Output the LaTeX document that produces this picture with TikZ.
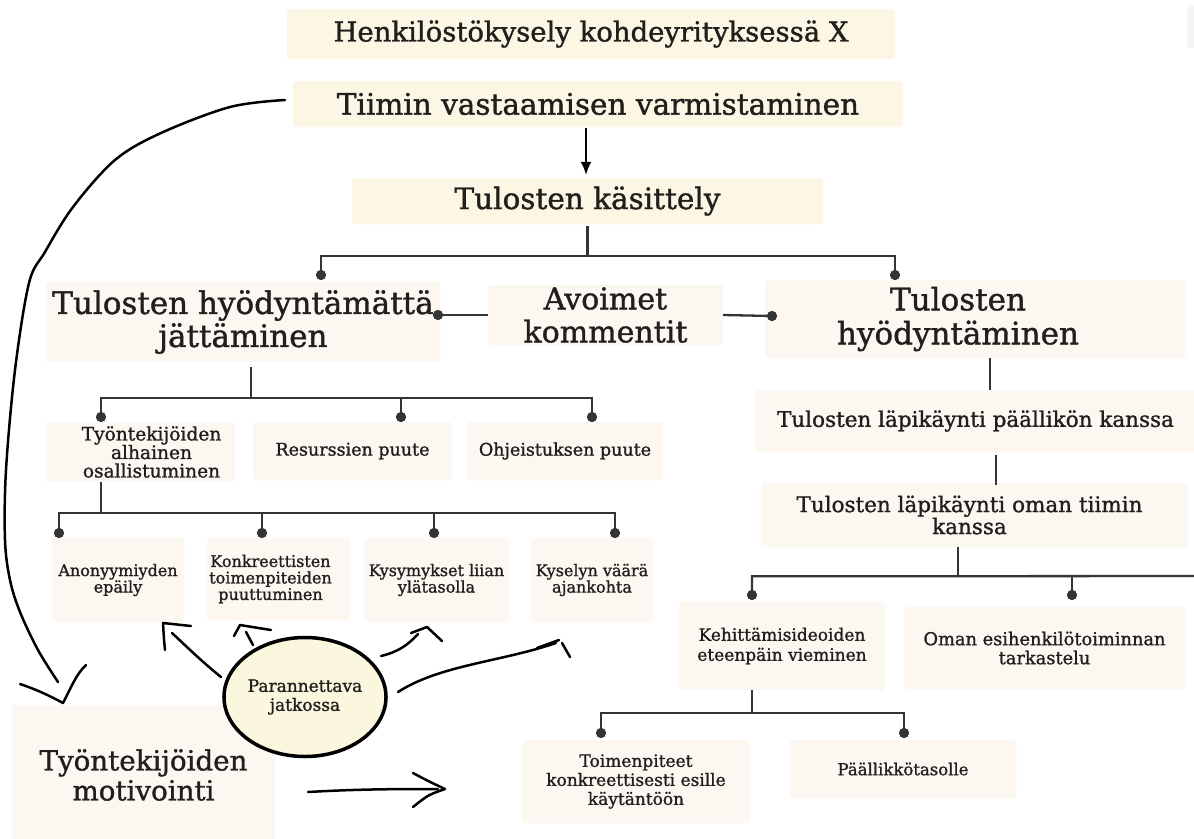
\documentclass[tikz,border=0pt]{standalone}
\usepackage{fontspec}
\setmainfont{DejaVu Serif}[FakeBold=1.2]
\usetikzlibrary{arrows.meta,shapes.geometric}
\definecolor{topfill}{RGB}{252,246,228}
\definecolor{boxfill}{RGB}{253,247,241}
\definecolor{circfill}{RGB}{251,246,222}
\definecolor{ink}{RGB}{34,30,28}
\definecolor{linec}{RGB}{52,52,52}
\newcommand{\fz}[2]{\fontsize{#1pt}{#2pt}\selectfont}
\begin{document}
\begin{tikzpicture}[x=1pt,y=-1pt,
  topbox/.style={fill=topfill, rounded corners=3pt, inner sep=0pt, align=center, text=ink},
  box/.style={fill=boxfill, rounded corners=3pt, inner sep=0pt, align=center, text=ink},
  lab/.style={inner sep=0pt, align=center, text=ink},
  conn/.style={draw=linec, line width=2.3pt},
  dotc/.style={circle, fill=linec, inner sep=0pt, minimum size=10pt},
  arr/.style={draw=black, line width=2pt, -{Latex[length=13pt,width=11pt]}},
  sketch/.style={draw=black, line width=2.5pt, line cap=round, line join=round},
]
\useasboundingbox (0,0) rectangle (1194,838);
\clip (0,0) rectangle (1194,838);
\fill[white] (0,0) rectangle (1194,838);
\fill[black!4] (1187,5) rectangle (1200,48);

% --- top chain
\node[topbox, minimum width=608pt, minimum height=50pt, font=\fz{27.5}{30}] (title) at (591,34) {Henkilöstökysely kohdeyrityksessä X};
\node[topbox, minimum width=610pt, minimum height=46pt, font=\fz{29.5}{32}] (tiimin) at (598,104) {Tiimin vastaamisen varmistaminen};
\node[topbox, minimum width=471pt, minimum height=46pt, font=\fz{29.5}{32}] (kas) at (587.5,201) {Tulosten käsittely};

% --- first level
\node[box, minimum width=394pt, minimum height=80pt, font=\fz{31}{33}] (hyj) at (243,322) {Tulosten hyödyntämättä\\jättäminen};
\node[box, minimum width=235pt, minimum height=60pt, font=\fz{30}{33}] (avo) at (605.5,315) {Avoimet\\kommentit};
\node[box, minimum width=420pt, minimum height=78pt,
  label={[lab, font=\fz{31}{34}, xshift=-17pt]center:{Tulosten\\hyödyntäminen}}] (hy) at (975,319) {};

% --- left branch
\node[box, minimum width=189pt, minimum height=60pt,
  label={[lab, font=\fz{18.6}{18.5}, xshift=11pt]center:{Työntekijöiden\\alhainen\\osallistuminen}}] (l2a) at (140.5,452) {};
\node[box, minimum width=199pt, minimum height=58pt, font=\fz{17.5}{20}] (l2b) at (352.5,451) {Resurssien puute};
\node[box, minimum width=196pt, minimum height=58pt, font=\fz{17.5}{20}] (l2c) at (565,451) {Ohjeistuksen puute};

\node[box, minimum width=132pt, minimum height=84pt, font=\fz{16}{16.5}] (an) at (118,580) {Anonyymiyden\\epäily};
\node[box, minimum width=143pt, minimum height=82pt,
  label={[lab, font=\fz{16}{16.5}, xshift=-8pt]center:{Konkreettisten\\toimenpiteiden\\puuttuminen}}] (ko) at (278.5,579) {};
\node[box, minimum width=145pt, minimum height=84pt, font=\fz{16}{16.5}] (ky) at (436.5,580) {Kysymykset liian\\ylätasolla};
\node[box, minimum width=122pt, minimum height=84pt, font=\fz{16}{16.5}] (kv) at (592,580) {Kyselyn väärä\\ajankohta};

% --- right branch
\node[box, minimum width=441pt, minimum height=62pt, font=\fz{21.5}{23}] (pk) at (975.5,421) {Tulosten läpikäynti päällikön kanssa};
\node[box, minimum width=427pt, minimum height=64pt,
  label={[lab, font=\fz{21.5}{22}, xshift=-5pt]center:{Tulosten läpikäynti oman tiimin\\kanssa}}] (ot) at (974.5,515) {};
\node[box, minimum width=206pt, minimum height=88pt, font=\fz{17}{20}] (ke) at (782,646) {Kehittämisideoiden\\eteenpäin vieminen};
\node[box, minimum width=281pt, minimum height=82pt, font=\fz{17.8}{19}] (om) at (1044.5,648) {Oman esihenkilötoiminnan\\tarkastelu};
\node[box, minimum width=228pt, minimum height=83pt, font=\fz{17}{19}] (to) at (636,781.5) {Toimenpiteet\\konkreettisesti esille\\käytäntöön};
\node[box, minimum width=226pt, minimum height=58pt, font=\fz{16.5}{19}] (pa) at (903,769) {Päällikkötasolle};

% --- bottom left
\node[box, minimum width=263pt, minimum height=140pt, font=\fz{27.7}{30}] (mo) at (143.5,775) {Työntekijöiden\\motivointi};
\node[ellipse, draw=black, line width=3.5pt, fill=circfill, minimum width=147pt, minimum height=119pt,
  inner sep=0pt, align=center, text=ink, font=\fz{17}{19}] (par) at (305,697) {Parannettava\\jatkossa};

% --- junction dots
\node[dotc] (d-hyj) at (321,275) {};
\node[dotc] (d-hy) at (895,275) {};
\node[dotc] (d-avoL) at (438,315) {};
\node[dotc] (d-avoR) at (772,316) {};
\node[dotc] (d-l2a) at (101,417) {};
\node[dotc] (d-l2b) at (401,417) {};
\node[dotc] (d-l2c) at (592,417) {};
\node[dotc] (d-an) at (59,533) {};
\node[dotc] (d-ko) at (262,533) {};
\node[dotc] (d-ky) at (434,533) {};
\node[dotc] (d-kv) at (615,533) {};
\node[dotc] (d-ke) at (752,595) {};
\node[dotc] (d-om) at (1072,595) {};
\node[dotc] (d-to) at (601,733) {};
\node[dotc] (d-pa) at (904,733) {};

% --- connectors
\draw[arr] ([xshift=-12pt,yshift=-1pt]tiimin.south) -- ([xshift=-1.5pt,yshift=3pt]kas.north);

\draw[conn] ([yshift=-2pt]kas.south) -- ++(0,30) coordinate (j1);
\draw[conn] (d-hyj.center) |- (j1) -| (d-hy.center);

\draw[conn] (d-avoL.center) -- (avo.west);
\draw[conn] (avo.east) -- (d-avoR.center);

\draw[conn] ([xshift=8pt,yshift=-5pt]hyj.south) -- ++(0,31) coordinate (j2);
\draw[conn] (d-l2a.center) |- (j2) -| (d-l2c.center);
\draw[conn] (d-l2b.center) -- (d-l2b |- j2);

\draw[conn] (d-l2a |- l2a.south) -- ++(0,31) coordinate (j3);
\draw[conn] (d-an.center) |- (j3) -| (d-kv.center);
\draw[conn] (d-ko.center) -- (d-ko |- j3);
\draw[conn] (d-ky.center) -- (d-ky |- j3);

\draw[conn] ([xshift=15pt]hy.south) -- ([xshift=14.5pt]pk.north);
\draw[conn] ([xshift=20.5pt,yshift=-3pt]pk.south) -- ([xshift=21.5pt,yshift=-2pt]ot.north);
\draw[conn] ([xshift=-16.5pt]ot.south) -- ++(0,29) coordinate (j4);
\coordinate (redge) at (1200,576);
\draw[conn] (d-ke.center) |- (j4) -- (redge);
\draw[conn] (d-om.center) -- (d-om |- j4);

\draw[conn] (d-ke |- ke.south) -- ++(0,23) coordinate (j5);
\draw[conn] (d-to.center) |- (j5) -| (d-pa.center);

% redraw dots over the lines
\foreach \d in {d-hyj,d-hy,d-avoL,d-avoR,d-l2a,d-l2b,d-l2c,d-an,d-ko,d-ky,d-kv,d-ke,d-om,d-to,d-pa}
  \fill[linec] (\d) circle (5pt);

% --- hand-drawn strokes
\draw[sketch] plot[smooth, tension=0.55] coordinates {(285,100) (230,107) (161,133) (115,160) (73,207) (45,252) (29,283) (15,370) (6,470) (5,540) (10,580) (20,612) (38,650) (58,682)};
\draw[sketch] (20,684) .. controls (38,690) and (52,697) .. (63,703) .. controls (70,690) and (76,674) .. (86,665);

\draw[sketch] (221,677) .. controls (200,660) and (185,645) .. (172,633);
\draw[sketch] (165,650) .. controls (164,640) .. (163,623) -- (191,626);

\draw[sketch] (253,645) -- (246,632);
\draw[sketch] (234,636) -- (240,625) -- (271,630);

\draw[sketch] (381,656) .. controls (398,652) and (408,645) .. (418,634);
\draw[sketch] (411,633) -- (427,627) -- (442,641);

\draw[sketch] (398,692) .. controls (440,665) and (500,662) .. (556,643);
\draw[sketch] (537,648) -- (559,640);
\draw[sketch] (562,643) -- (570,657);

\draw[sketch] (308,792) .. controls (360,789) and (400,789) .. (438,789);
\draw[sketch] (413,773) .. controls (428,781) .. (445,789) .. controls (428,795) .. (413,807);
\end{tikzpicture}
\end{document}
